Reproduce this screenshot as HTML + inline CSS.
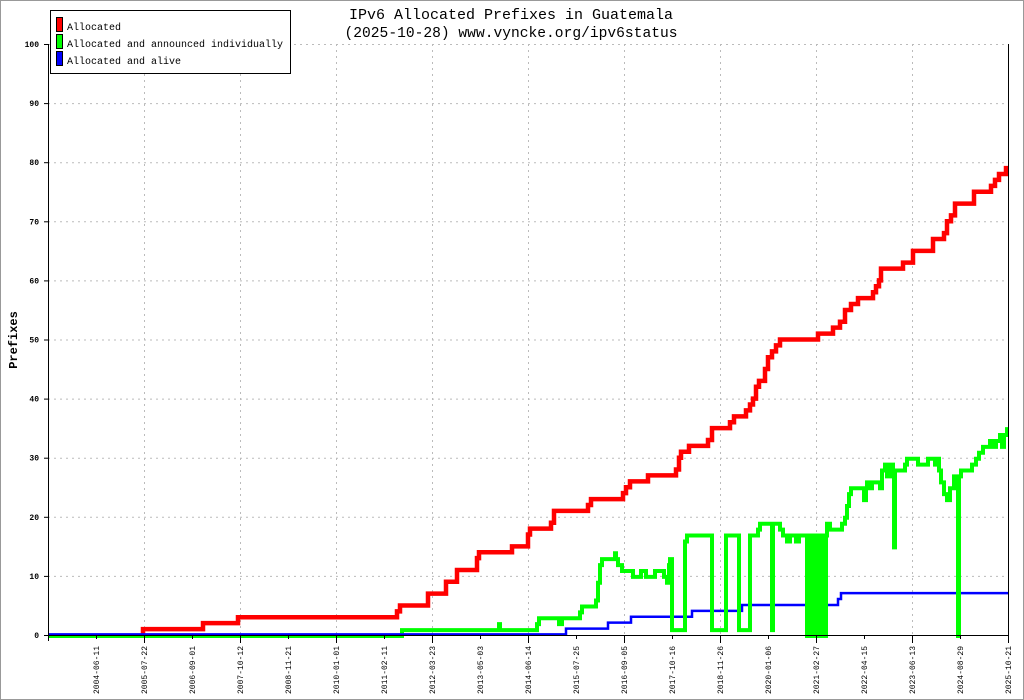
<!DOCTYPE html>
<html><head><meta charset="utf-8"><style>
html,body{margin:0;padding:0;background:#fff}
svg{display:block}
text{font-family:"Liberation Mono","DejaVu Sans Mono",monospace}
</style></head><body>
<svg id="s" width="1024" height="700" xmlns="http://www.w3.org/2000/svg">
<rect x="0.5" y="0.5" width="1023" height="699" fill="#fff" stroke="#999" stroke-width="1"/>
<g id="grid" stroke="#bbb" stroke-width="1" stroke-dasharray="2,4"></g>
<g id="series" fill="none" stroke-linejoin="miter"></g>
<g id="axes" stroke="#000" stroke-width="1"></g>
<g id="labels"></g>
<text x="511" y="19" font-size="15" text-anchor="middle" textLength="324" lengthAdjust="spacingAndGlyphs">IPv6 Allocated Prefixes in Guatemala</text>
<text x="511" y="37" font-size="15" text-anchor="middle" textLength="333" lengthAdjust="spacingAndGlyphs">(2025-10-28) www.vyncke.org/ipv6status</text>
<text transform="translate(17,340) rotate(-90)" font-size="12" font-weight="bold" text-anchor="middle">Prefixes</text>
<rect x="50.5" y="10.5" width="240" height="63" fill="#fff" stroke="#000"/>
<rect x="56.5" y="17.5" width="6" height="14" fill="#f00" stroke="#000"/>
<rect x="56.5" y="34.5" width="6" height="14" fill="#0f0" stroke="#000"/>
<rect x="56.5" y="51.5" width="6" height="14" fill="#00f" stroke="#000"/>
<text x="67" y="30" font-size="10">Allocated</text>
<text x="67" y="47" font-size="10" textLength="216" lengthAdjust="spacingAndGlyphs">Allocated and announced individually</text>
<text x="67" y="64" font-size="10">Allocated and alive</text>
</svg>
<script>
var NS="http://www.w3.org/2000/svg";
function el(p,t,a,txt){var e=document.createElementNS(NS,t);for(var k in a)e.setAttribute(k,a[k]);if(txt!==undefined)e.textContent=txt;document.getElementById(p).appendChild(e);return e;}
function Y(v){return 635-v*5.91;}
for(var v=10;v<=100;v+=10){el("grid","line",{x1:48,x2:1008,y1:Y(v)+0.5,y2:Y(v)+0.5});}
for(var x=144;x<1008;x+=96){el("grid","line",{x1:x+0.5,x2:x+0.5,y1:44,y2:635});}
el("axes","line",{x1:48.5,x2:48.5,y1:44,y2:641});
el("axes","line",{x1:1008.5,x2:1008.5,y1:44,y2:641});
el("axes","line",{x1:44,x2:1009,y1:635.5,y2:635.5});
for(var v=0;v<=100;v+=10){el("axes","line",{x1:44,x2:48,y1:Y(v)+0.5,y2:Y(v)+0.5});
 el("labels","text",{x:39,y:Y(v)+3,"font-size":8,"font-weight":"bold","text-anchor":"end"},String(v));}
var dates=["2004-06-11","2005-07-22","2006-09-01","2007-10-12","2008-11-21","2010-01-01","2011-02-11","2012-03-23","2013-05-03","2014-06-14","2015-07-25","2016-09-05","2017-10-16","2018-11-26","2020-01-06","2021-02-27","2022-04-15","2023-06-13","2024-08-29","2025-10-21"];
for(var i=0;i<20;i++){var x=96+48*i;var big=(i%2==1);
 el("axes","line",{x1:x+0.5,x2:x+0.5,y1:635,y2:big?643:639});
 el("labels","text",{transform:"translate("+(x+3)+",694) rotate(-90)","font-size":8},dates[i]);}
function path(pts,color,w,x0,off){off=off||0;var d="M"+x0+","+(Y(pts[0][1])+off);
 for(var i=1;i<pts.length;i++){var x=pts[i][0],v=pts[i][1];d+=" H"+x+" V"+(Y(v)+off);}
 d+=" H1009";el("series","path",{d:d,stroke:color,"stroke-width":w});}
var green=[[48,0],[401,0],[402,1],[497,1],[499,2],[500,1],[535,1],[537,2],[539,3],[558,3],[559,2],[562,3],[578,3],[580,4],[582,5],[594,5],[596,6],[598,9],[600,12],[602,13],[613,13],[615,14],[616,13],[618,12],[622,11],[633,10],[640,10],[641,11],[645,11],[646,10],[654,10],[655,11],[663,11],[664,10],[667,9],[669,12],[670,13],[672,1],[684,1],[685,16],[687,17],[711,17],[712,1],[725,1],[726,17],[738,17],[739,1],[749,1],[750,17],[756,17],[758,18],[760,19],[771,19],[772,1],[773,19],[778,19],[780,18],[783,17],[787,16],[790,17],[794,17],[796,16],[799,17],[805,17],[807,0],[808,17],[810,0],[811,17],[813,0],[815,17],[816,0],[818,17],[819,0],[820,17],[822,0],[824,17],[825,0],[826,17],[827,19],[830,18],[841,18],[842,19],[845,20],[847,22],[849,24],[851,25],[863,25],[864,23],[866,25],[867,26],[869,25],[872,26],[879,26],[880,25],[882,28],[885,29],[887,27],[890,29],[893,28],[894,15],[895,28],[903,28],[905,29],[907,30],[916,30],[918,29],[926,29],[928,30],[931,30],[935,29],[937,30],[939,28],[941,26],[944,24],[947,23],[950,25],[954,27],[956,25],[958,0],[959,27],[961,28],[970,28],[972,29],[976,30],[979,31],[983,32],[990,33],[993,32],[996,33],[1000,34],[1002,32],[1004,34],[1007,35]];
var red=[[142,0],[143,1],[203,2],[238,3],[397,4],[400,5],[428,7],[446,9],[457,11],[477,13],[479,14],[512,15],[528,17],[530,18],[551,19],[554,21],[569,21],[588,22],[591,23],[623,24],[626,25],[630,26],[648,27],[676,28],[679,30],[681,31],[689,32],[708,33],[712,35],[730,36],[734,37],[746,38],[750,39],[753,40],[756,42],[759,43],[765,45],[768,47],[772,48],[776,49],[780,50],[818,51],[833,52],[840,53],[845,55],[851,56],[858,57],[873,58],[876,59],[879,60],[881,62],[903,63],[913,65],[933,67],[944,68],[947,70],[951,71],[955,73],[974,75],[991,76],[995,77],[999,78],[1006,79]];
var blue=[[48,0],[566,1],[608,2],[631,3],[692,4],[742,5],[838,6],[841,7]];
path(red,"#f00",4.5,142);
path(blue,"#00f",2.5,48,-0.5);
path(green,"#0f0",4,48,1);
el("series","path",{d:"M48,634.5 H566",stroke:"#00f","stroke-width":2.5});
</script>
</body></html>
